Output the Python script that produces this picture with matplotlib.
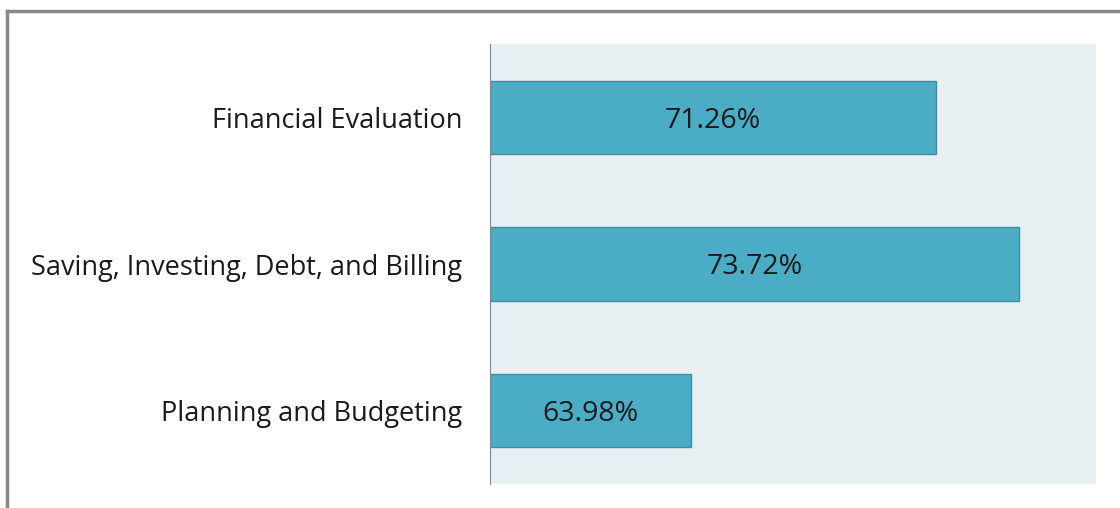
import matplotlib.pyplot as plt
from matplotlib.lines import Line2D

categories = ['Planning and Budgeting', 'Saving, Investing, Debt, and Billing', 'Financial Evaluation']
values = [63.98, 73.72, 71.26]

plt.rcParams['font.family'] = ['Open Sans', 'DejaVu Sans']

fig = plt.figure(figsize=(11.2, 5.08), dpi=100)
ax = fig.add_axes([490 / 1120, 1 - 484 / 508, 606 / 1120, 440 / 508])
ax.set_facecolor('#E8EFF3')

xmin = 58
bars = ax.barh(categories, [v - xmin for v in values], left=xmin, height=0.5,
               color='#4BACC6', edgecolor='#3D8EA4', linewidth=1)
for i, v in enumerate(values):
    ax.text((xmin + v) / 2, i, f'{v:.2f}%', ha='center', va='center_baseline',
            fontsize=20.5, color='#1a1a1a')

ax.set_xlim(xmin, 76)
ax.set_ylim(-0.5, 2.5)
ax.set_xticks([])
ax.tick_params(axis='y', length=0, pad=20, labelsize=19.5, labelcolor='#1a1a1a')
for s in ['top', 'right', 'bottom']:
    ax.spines[s].set_visible(False)
ax.spines['left'].set_color('#888888')

# outer chart border (top and left visible)
fig.add_artist(Line2D([7 / 1120, 1], [1 - 11 / 508, 1 - 11 / 508], color='#888888', lw=2.5,
                      transform=fig.transFigure))
fig.add_artist(Line2D([7 / 1120, 7 / 1120], [0, 1 - 11 / 508], color='#888888', lw=2.5,
                      transform=fig.transFigure))

fig.savefig('out.png', dpi=100)
